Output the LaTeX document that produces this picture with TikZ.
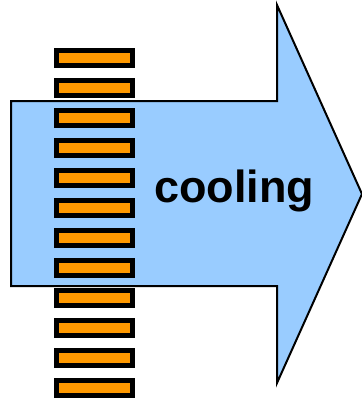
\documentclass[tikz,border=0pt]{standalone}
\usepackage{fontspec}
\setmainfont{Liberation Sans}
\definecolor{arrowblue}{HTML}{99CCFF}
\definecolor{barorange}{HTML}{FF9900}
\begin{document}
\begin{tikzpicture}[x=1pt,y=-1pt,
  bigarrow/.style={fill=arrowblue,draw=black,line width=2pt,line join=miter},
  fin/.style={fill=barorange,draw=black,line width=5pt},
  lbl/.style={font=\fontsize{45}{45}\selectfont\bfseries,inner sep=0pt,anchor=base}]
\useasboundingbox (0,0) rectangle (362,400);
\draw[bigarrow] (11,101) -- (277,101) -- (277,5) -- (362,194) -- (277,383) -- (277,286) -- (11,286) -- cycle;
\foreach \k in {0,...,11}{
  \draw[fin] (56.5,{50.5+30*\k}) rectangle (132.5,{65.5+30*\k});
}
\node[lbl] (cool) at (234,202) {cooling};
\end{tikzpicture}
\end{document}
